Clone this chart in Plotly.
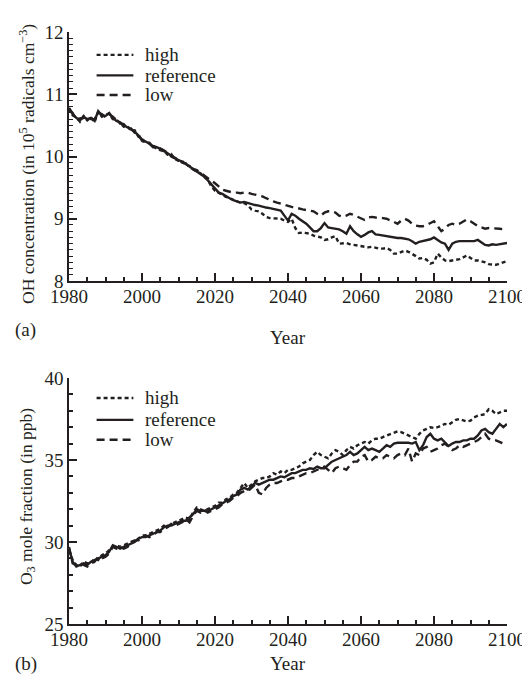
import plotly.graph_objects as go

years = list(range(1980, 2101))

oh_reference = [
    10.78, 10.68, 10.62, 10.58, 10.64, 10.60, 10.62, 10.57, 10.73, 10.66,
    10.65, 10.70, 10.62, 10.57, 10.55, 10.50, 10.47, 10.43, 10.40, 10.34,
    10.27, 10.24, 10.20, 10.17, 10.15, 10.12, 10.10, 10.05, 10.02, 9.98,
    9.94, 9.92, 9.88, 9.84, 9.81, 9.77, 9.72, 9.68, 9.62, 9.55,
    9.48, 9.42, 9.40, 9.36, 9.33, 9.30, 9.28, 9.26, 9.27, 9.25,
    9.24, 9.22, 9.21, 9.19, 9.18, 9.17, 9.16, 9.15, 9.13, 9.05,
    8.97, 9.08, 9.05, 9.00, 8.96, 8.92, 8.86, 8.80, 8.80, 8.85,
    8.93, 8.86, 8.85, 8.84, 8.83, 8.80, 8.76, 8.88, 8.80, 8.75,
    8.71, 8.74, 8.78, 8.80, 8.75, 8.74, 8.73, 8.71, 8.70, 8.69,
    8.69, 8.69, 8.68, 8.67, 8.64, 8.60, 8.63, 8.64, 8.65, 8.67,
    8.70, 8.66, 8.62, 8.60, 8.50, 8.60, 8.63, 8.64, 8.64, 8.63,
    8.63, 8.64, 8.66, 8.62, 8.58, 8.57, 8.59, 8.58, 8.59, 8.60,
    8.61,
]
oh_low = [
    10.76, 10.70, 10.60, 10.61, 10.62, 10.63, 10.60, 10.60, 10.70, 10.68,
    10.63, 10.68, 10.64, 10.58, 10.53, 10.52, 10.45, 10.45, 10.38, 10.36,
    10.25, 10.22, 10.21, 10.15, 10.16, 10.10, 10.08, 10.07, 10.00, 9.97,
    9.96, 9.90, 9.89, 9.82, 9.80, 9.78, 9.74, 9.70, 9.66, 9.62,
    9.57, 9.52, 9.47, 9.45, 9.43, 9.42, 9.42, 9.41, 9.42, 9.42,
    9.40, 9.39, 9.37, 9.36, 9.33, 9.30, 9.28, 9.26, 9.24, 9.22,
    9.20, 9.19, 9.18, 9.16, 9.15, 9.14, 9.13, 9.12, 9.08, 9.05,
    9.10, 9.12, 9.12, 9.10, 9.05, 9.03, 9.05, 9.08, 9.06, 9.03,
    9.00, 8.98, 9.02, 9.03, 9.02, 9.02, 9.01, 9.00, 8.98, 8.95,
    8.92, 8.97, 9.00, 8.97, 8.92, 8.89, 8.88, 8.88, 8.90, 8.93,
    8.96, 8.88, 8.80, 8.84, 8.90, 8.92, 8.90, 8.92, 8.95, 8.99,
    8.96, 8.92, 8.88, 8.86, 8.84, 8.85, 8.85, 8.85, 8.84, 8.83,
    8.82,
]
oh_high = [
    10.77, 10.66, 10.63, 10.56, 10.65, 10.58, 10.63, 10.55, 10.72, 10.64,
    10.67, 10.69, 10.60, 10.59, 10.54, 10.48, 10.49, 10.41, 10.42, 10.32,
    10.28, 10.22, 10.22, 10.16, 10.13, 10.13, 10.09, 10.03, 10.04, 9.96,
    9.93, 9.93, 9.86, 9.85, 9.79, 9.76, 9.73, 9.67, 9.63, 9.52,
    9.45, 9.42, 9.38, 9.35, 9.33, 9.30, 9.28, 9.26, 9.25, 9.22,
    9.15, 9.13, 9.12, 9.08, 9.03, 9.01, 9.01, 9.00, 9.00, 8.97,
    8.95, 9.00, 8.85, 8.77, 8.78, 8.77, 8.76, 8.73, 8.72, 8.70,
    8.66, 8.67, 8.70, 8.72, 8.60, 8.60, 8.61, 8.59, 8.58, 8.57,
    8.56, 8.55, 8.54, 8.55, 8.53, 8.52, 8.52, 8.53, 8.50, 8.44,
    8.44, 8.46, 8.49, 8.47, 8.44, 8.40, 8.36, 8.37, 8.34, 8.28,
    8.30, 8.44, 8.38, 8.33, 8.32, 8.33, 8.34, 8.35, 8.38, 8.41,
    8.37, 8.33, 8.33, 8.32, 8.30, 8.27, 8.27, 8.26, 8.28, 8.30,
    8.32,
]

o3_reference = [
    29.6, 28.8, 28.5, 28.6, 28.7, 28.6, 28.8, 28.9, 29.0, 29.1,
    29.2, 29.4, 29.8, 29.7, 29.6, 29.7, 29.8, 29.9, 30.0, 30.2,
    30.3, 30.3, 30.4, 30.5, 30.6, 30.7, 30.9, 31.0, 31.0, 31.1,
    31.2, 31.3, 31.3, 31.5, 31.7, 32.0, 31.9, 31.9, 31.85, 32.0,
    32.1, 32.2, 32.35, 32.5, 32.6, 32.8, 32.9, 33.2, 33.3, 33.2,
    33.4, 33.6, 33.5, 33.6, 33.7, 33.8, 33.8, 33.9, 34.0, 33.95,
    34.1, 34.2, 34.2, 34.3, 34.4, 34.4, 34.5, 34.45, 34.6, 34.5,
    34.5, 34.7, 34.9, 35.0, 35.1, 35.2, 35.3, 35.5, 35.3, 35.4,
    35.6, 35.8, 35.6, 35.7, 35.6, 35.5, 35.7, 35.9, 35.8, 36.0,
    36.05, 36.05, 36.05, 36.05, 36.0, 36.1, 35.6, 35.9, 36.4, 36.6,
    36.3, 36.2, 36.3, 36.1, 35.85, 36.0, 36.1, 36.1, 36.2, 36.2,
    36.3, 36.3, 36.5, 36.8, 36.9, 36.7, 36.6, 36.9, 37.2, 37.0,
    37.2,
]
o3_high = [
    29.5, 28.9, 28.6, 28.5, 28.8, 28.7, 28.7, 29.0, 28.9, 29.2,
    29.3, 29.5, 29.7, 29.8, 29.7, 29.8, 29.9, 30.0, 30.1, 30.2,
    30.4, 30.4, 30.5, 30.6, 30.7, 30.8, 31.0, 30.9, 31.1, 31.2,
    31.3, 31.4, 31.5, 31.4, 31.8, 32.1, 32.0, 31.9, 32.0, 32.1,
    32.2, 32.4, 32.4, 32.6, 32.7, 32.9, 33.0, 33.3, 33.6, 33.3,
    33.5, 33.7, 33.8, 33.9, 33.9, 34.0, 34.2, 34.1, 34.3, 34.2,
    34.4, 34.4, 34.5, 34.6, 34.8, 34.9, 35.0, 35.3, 35.5, 35.3,
    35.2, 35.1, 35.4, 35.6, 35.5, 35.3, 35.6, 35.8, 35.7, 35.9,
    36.0, 36.1, 36.0, 36.2, 36.3, 36.3, 36.4, 36.5, 36.6, 36.7,
    36.75, 36.7, 36.6, 36.5, 36.4, 36.3, 36.6, 36.8, 36.9, 37.0,
    36.95, 37.0, 37.1, 37.2, 37.15, 37.3, 37.45, 37.5, 37.4, 37.35,
    37.4, 37.6, 37.7, 37.75, 37.8, 38.1, 38.0, 37.8, 37.9, 38.0,
    38.0,
]
o3_low = [
    29.7, 28.7, 28.6, 28.7, 28.6, 28.5, 28.7, 28.8, 29.1, 29.0,
    29.1, 29.3, 29.7, 29.6, 29.7, 29.6, 29.7, 29.9, 30.1, 30.1,
    30.2, 30.4, 30.3, 30.4, 30.6, 30.6, 30.8, 30.9, 31.1, 31.0,
    31.1, 31.2, 31.4, 31.2, 31.6, 31.9, 31.8, 32.0, 31.8, 31.9,
    32.0, 32.1, 32.3, 32.4, 32.5, 32.7, 32.8, 33.0, 33.1, 33.1,
    33.3, 33.5, 33.0, 32.9, 33.3, 33.5, 33.6, 33.6, 33.7, 33.8,
    33.8, 33.9, 33.9, 34.0, 34.1, 34.2, 34.2, 34.3, 34.4, 34.5,
    34.6, 34.4, 34.2, 34.5, 34.6, 34.5, 34.4, 34.7, 34.9, 34.9,
    35.2, 35.3, 34.9, 35.0, 35.2, 35.1, 35.1, 35.3, 35.2, 35.1,
    35.3, 35.4, 35.3, 35.7, 34.9, 35.4, 35.3, 35.7, 35.8, 35.5,
    35.6, 35.7, 35.9, 36.0, 35.8, 35.6, 35.7, 35.9, 35.8, 35.9,
    36.0, 36.1, 36.2, 36.4, 36.6, 36.3, 36.2, 36.2, 36.1, 36.0,
    36.0,
]

scenario_names = ["high", "reference", "low"]
x_ticks = [1980, 2000, 2020, 2040, 2060, 2080, 2100]
oh_ticks = [8, 9, 10, 11, 12]
o3_ticks = [25, 30, 35, 40]

INK = "#231f20"
FONT = "Liberation Serif, Times New Roman, serif"
dash_styles = {"high": "4px,3px", "reference": "solid", "low": "8px,5px"}
LW = 2.4

fig = go.Figure()

panels = [
    ("x", "y", {"high": oh_high, "reference": oh_reference, "low": oh_low}),
    ("x2", "y2", {"high": o3_high, "reference": o3_reference, "low": o3_low}),
]
for xa, ya, series in panels:
    for name in scenario_names:
        fig.add_trace(go.Scatter(
            x=years, y=series[name], mode="lines", name=name,
            xaxis=xa, yaxis=ya, showlegend=False,
            line=dict(color=INK, width=LW, dash=dash_styles[name]),
        ))

# manual legends (one per panel)
legend_rows = {
    "y": [0.908, 0.826, 0.747],
    "y2": [0.919, 0.830, 0.749],
}
for xa, ya in [("x", "y"), ("x2", "y2")]:
    for name, yy in zip(scenario_names, legend_rows[ya]):
        fig.add_shape(type="line", xref=f"{xa} domain", yref=f"{ya} domain",
                      x0=0.063, x1=0.147, y0=yy, y1=yy,
                      line=dict(color=INK, width=LW, dash=dash_styles[name]))
        fig.add_annotation(text=name, xref=f"{xa} domain", yref=f"{ya} domain",
                           x=0.168, y=yy, xanchor="left", yanchor="middle",
                           showarrow=False, font=dict(family=FONT, size=19, color=INK))

axis_common = dict(
    showline=True, linecolor=INK, linewidth=1.6, mirror=False,
    showgrid=False, zeroline=False,
    ticks="inside", tickcolor=INK, tickwidth=1.5,
    tickfont=dict(family=FONT, size=19, color=INK),
)

fig.update_layout(
    width=530, height=674,
    margin=dict(l=61, r=21, t=24, b=58),
    paper_bgcolor="white", plot_bgcolor="white",
    showlegend=False,
    font=dict(family=FONT, color=INK, size=19),
    xaxis=dict(domain=[0, 1], anchor="y", range=[1980, 2100], tickvals=x_ticks,
               ticklen=8, ticklabelstandoff=-3,
               minor=dict(ticks="inside", dtick=5, tick0=1980, ticklen=4,
                          tickcolor=INK, tickwidth=1.5), **axis_common),
    yaxis=dict(domain=[0.5794, 1.0], anchor="x", range=[8, 12], tickvals=oh_ticks,
               ticklen=8, minor=dict(ticks="inside", dtick=0.1, tick0=8, ticklen=4,
                                     tickcolor=INK, tickwidth=1.2), **axis_common),
    xaxis2=dict(domain=[0, 1], anchor="y2", range=[1980, 2100], tickvals=x_ticks,
                ticklen=8, ticklabelstandoff=-3,
                minor=dict(ticks="inside", dtick=5, tick0=1980, ticklen=4,
                           tickcolor=INK, tickwidth=1.5), **axis_common),
    yaxis2=dict(domain=[0.0, 0.4155], anchor="x2", range=[25, 40], tickvals=o3_ticks,
                ticklen=8, minor=dict(ticks="inside", dtick=1, tick0=25, ticklen=4,
                                      tickcolor=INK, tickwidth=1.5), **axis_common),
)

text_font = dict(family=FONT, size=19, color=INK)
title_font = dict(family=FONT, size=17.5, color=INK)
# y-axis titles
fig.add_annotation(text="OH concentration (in 10<sup>5</sup> radicals cm<sup>\u22123</sup>)",
                   xref="paper", yref="paper", x=-0.096, y=0.777,
                   xanchor="center", yanchor="middle", textangle=-90,
                   showarrow=False, font=title_font)
fig.add_annotation(text="O<sub>3</sub> mole fraction (in ppb)",
                   xref="paper", yref="paper", x=-0.096, y=0.216,
                   xanchor="center", yanchor="middle", textangle=-90,
                   showarrow=False, font=title_font)
# x-axis titles
fig.add_annotation(text="Year", xref="paper", yref="paper", x=0.5, y=0.5794,
                   yshift=-57, xanchor="center", yanchor="middle",
                   showarrow=False, font=text_font)
fig.add_annotation(text="Year", xref="paper", yref="paper", x=0.5, y=0.0,
                   yshift=-39, xanchor="center", yanchor="middle",
                   showarrow=False, font=text_font)
# panel labels
fig.add_annotation(text="(a)", xref="paper", yref="paper", x=-0.127, y=0.5794,
                   yshift=-49, xanchor="left", yanchor="middle",
                   showarrow=False, font=text_font)
fig.add_annotation(text="(b)", xref="paper", yref="paper", x=-0.127, y=0.0,
                   yshift=-40, xanchor="left", yanchor="middle",
                   showarrow=False, font=text_font)

fig.write_html("out.html")
